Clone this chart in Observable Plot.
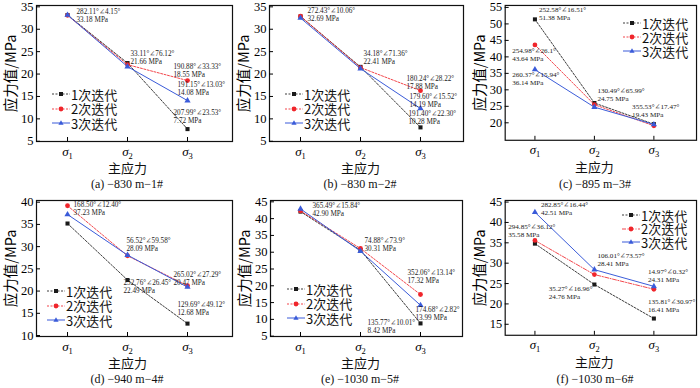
<!DOCTYPE html>
<html><head><meta charset="utf-8">
<script src="https://cdn.jsdelivr.net/npm/d3@7"></script>
<script src="https://cdn.jsdelivr.net/npm/@observablehq/plot@0.6"></script>
<style>
body{margin:0;background:#fff}
#root{position:relative;width:700px;height:388px;overflow:hidden;background:#fff}
.panel{position:absolute}
.panel svg{overflow:visible}
.cap{position:absolute;font-family:"Liberation Serif",serif;font-size:12px;text-align:center;width:160px;white-space:nowrap;color:#111;line-height:14px}
.leg{position:absolute;font-family:"Noto Sans CJK SC",sans-serif;font-size:13px;line-height:13px;height:13px;display:flex;align-items:center;white-space:nowrap;color:#111}
.leg svg{margin-right:1px}
g[aria-label="y-axis label"] text{font-family:"Noto Sans CJK SC",sans-serif;font-size:14.5px;font-style:normal}
</style></head>
<body><div id="root"></div>
<script>
// ---------- data ----------
const categories = ["σ1", "σ2", "σ3"];
const seriesNames = ["1次迭代", "2次迭代", "3次迭代"];
const captions = ["(a) −830 m−1#", "(b) −830 m−2#", "(c) −895 m−3#", "(d) −940 m−4#", "(e) −1030 m−5#", "(f) −1030 m−6#"];
const yLabel = "应力值/MPa";
const xLabel = "主应力";
const iter1 = [[33.18, 22.45, 7.72], [32.85, 21.6, 8.1], [51.38, 26.0, 19.6], [35.2, 22.49, 12.68], [42.1, 30.6, 8.8], [34.8, 24.76, 16.41]];
const iter2 = [[33.1, 22.1, 18.55], [32.9, 21.45, 16.3], [43.64, 25.5, 19.1], [39.2, 27.95, 21.2], [42.3, 31.1, 17.4], [35.58, 27.2, 23.6]];
const iter3 = [[33.18, 21.66, 14.08], [32.5, 21.2, 12.3], [36.14, 24.75, 19.5], [37.23, 28.09, 20.9], [42.9, 30.31, 14.2], [42.51, 28.41, 24.31]];
const yTicks = [[5, 10, 15, 20, 25, 30, 35], [5, 10, 15, 20, 25, 30, 35], [20, 25, 30, 35, 40, 45, 50, 55], [10, 15, 20, 25, 30, 35, 40], [5, 10, 15, 20, 25, 30, 35, 40, 45], [15, 20, 25, 30, 35, 40, 45]];
const annotationTexts = [
  ["282.11°∠4.15°\n33.18 MPa", "33.11°∠76.12°\n21.66 MPa", "190.88°∠33.33°\n18.55 MPa", "191.15°∠13.03°\n14.08 MPa", "207.99°∠23.53°\n7.72 MPa"],
  ["272.43°∠10.06°\n32.69 MPa", "34.18°∠71.36°\n22.41 MPa", "180.24°∠28.22°\n17.88 MPa", "179.60°∠15.52°\n14.19 MPa", "191.40°∠22.30°\n10.28 MPa"],
  ["252.58°∠16.51°\n51.38 MPa", "254.98°∠26.1°\n43.64 MPa", "260.37°∠15.94°\n36.14 MPa", "130.49°∠65.99°\n24.75 MPa", "355.53°∠17.47°\n19.43 MPa"],
  ["168.50°∠12.40°\n37.23 MPa", "56.52°∠59.58°\n28.09 MPa", "265.02°∠27.29°\n20.47 MPa", "252.76°∠26.45°\n22.49 MPa", "129.69°∠49.12°\n12.68 MPa"],
  ["365.49°∠15.84°\n42.90 MPa", "74.88°∠73.9°\n30.31 MPa", "352.06°∠13.14°\n17.32 MPa", "174.68°∠2.82°\n13.99 MPa", "135.77°∠10.01°\n8.42 MPa"],
  ["282.85°∠16.44°\n42.51 MPa", "294.85°∠36.12°\n35.58 MPa", "106.01°∠73.57°\n28.41 MPa", "35.27°∠16.96°\n24.76 MPa", "14.97°∠0.32°\n24.31 MPa", "135.81°∠30.97°\n16.41 MPa"]
];

// ---------- layout / style ----------
const colors = ["#1a1a1a", "#f0252b", "#3a5bd9"];
const symbols = ["square", "circle", "triangle"];
const layout = [
  {frameLeft: 36, top: 0, frameW: 196, xDomain: [0.483, 3.75], yDomain: [4.95, 35.3], legend: {x: 52, y: [94, 108.5, 123]},
   notes: [[2, 0, 9, -6.5], [2, 1, 3, -16], [1, 2, -14, -17], [2, 2, -10, -19], [0, 2, -14, -20]]},
  {frameLeft: 269, top: 0, frameW: 194, xDomain: [0.483, 3.717], yDomain: [4.95, 35.3], legend: {x: 285, y: [94, 108.5, 123]},
   notes: [[0, 0, 7, -9], [2, 1, 3, -18], [1, 2, -14, -15], [2, 2, -11, -15], [0, 2, -12, -17]]},
  {frameLeft: 505, top: 0, frameW: 193, xDomain: [0.5, 3.717], yDomain: [14.7, 55.6], legend: {x: 623, y: [23, 37, 51]},
   notes: [[0, 0, 4, -13], [1, 0, -23, 2], [2, 0, -23, 2], [2, 1, 3, -20], [2, 2, -22, -21]]},
  {frameLeft: 36, top: 195, frameW: 196, xDomain: [0.483, 3.75], yDomain: [9.78, 40.38], legend: {x: 47, y: [291, 305.5, 320]},
   notes: [[2, 0, 6, -13], [2, 1, -1, -18], [2, 2, -14, -16], [0, 1, -4, -1], [0, 2, -10, -22]]},
  {frameLeft: 270, top: 195, frameW: 192, xDomain: [0.5, 3.7], yDomain: [4.9, 45.4], legend: {x: 287, y: [289, 303.5, 318]},
   notes: [[2, 0, 12, -7], [2, 1, 4, -14], [1, 2, -13, -25], [2, 2, -5, 1], [0, 2, -53, -4]]},
  {frameLeft: 505, top: 195, frameW: 193, xDomain: [0.5, 3.717], yDomain: [12.3, 45.4], legend: {x: 622, y: [215, 228.5, 242]},
   notes: [[2, 0, 6, -11], [1, 0, -27, -17], [2, 1, 3, -17], [0, 1, -46, 1], [2, 2, -6, -18], [0, 2, -6, -20]]}
];
const ML = 36, MR = 4, MT = 5, MB = 40, H = 181;
const serif = "Liberation Serif, DejaVu Serif, serif";

function dashFor(s, p) {
  if (s === 2) return null;
  if (s === 1 && p === 5) return "4,1.5,1,1.5";
  return "2,1.5";
}

const root = document.getElementById("root");
const svgNS = "http://www.w3.org/2000/svg";

layout.forEach((L, p) => {
  const all = [iter1[p], iter2[p], iter3[p]];
  const rows = all.map((vals, s) => vals.map((v, i) => ({s, i: i + 1, v, cat: categories[i]})));
  const marks = [
    Plot.frame({stroke: "#111", strokeWidth: 1.2}),
    Plot.axisY({ticks: yTicks[p], tickSize: -4, tickPadding: 7, fontSize: 12.5, fontFamily: serif,
      label: yLabel, labelAnchor: "center", labelArrow: false, labelOffset: 31}),
    Plot.axisX({ticks: [1, 2, 3], tickFormat: i => categories[i - 1], tickSize: -4, tickPadding: 9,
      fontSize: 13, fontFamily: serif, fontStyle: "italic", label: null}),
    Plot.text([xLabel], {x: 2, frameAnchor: "bottom", lineAnchor: "middle", dy: 27.5, fontSize: 13, fontFamily: "Noto Sans CJK SC", fill: "#111"})
  ];
  rows.forEach((r, s) => {
    marks.push(Plot.line(r, {x: "i", y: "v", stroke: colors[s], strokeWidth: s === 2 ? 1 : 0.85, strokeDasharray: dashFor(s, p)}));
    marks.push(Plot.dot(r, {x: "i", y: "v", symbol: symbols[s], fill: colors[s], stroke: "none", r: s === 1 ? 2.4 : 2.3}));
  });
  L.notes.forEach(([s, c, dx, dy], k) => {
    marks.push(Plot.text([annotationTexts[p][k]], {
      x: c + 1, y: all[s][c], text: d => d, dx, dy, textAnchor: "start", lineAnchor: "top",
      fontSize: 7.2, lineHeight: 1.12, fontFamily: serif, fill: "#222"
    }));
  });
  const chart = Plot.plot({
    width: ML + L.frameW + MR, height: H,
    marginLeft: ML, marginRight: MR, marginTop: MT, marginBottom: MB,
    style: {background: "transparent", overflow: "visible"},
    x: {domain: L.xDomain},
    y: {domain: L.yDomain},
    marks
  });
  // subscripts on σ tick labels
  chart.querySelectorAll('g[aria-label="x-axis tick label"] text').forEach(t => {
    const str = t.textContent;
    t.textContent = str[0];
    const ts = document.createElementNS(svgNS, "tspan");
    ts.setAttribute("dy", "3");
    ts.setAttribute("font-size", "8.5");
    ts.setAttribute("font-style", "normal");
    ts.textContent = str.slice(1);
    t.appendChild(ts);
  });
  const div = document.createElement("div");
  div.className = "panel";
  div.style.left = (L.frameLeft - ML) + "px";
  div.style.top = L.top + "px";
  div.appendChild(chart);
  root.appendChild(div);

  // caption centred under σ2
  const sigma2 = L.frameLeft + (2 - L.xDomain[0]) / (L.xDomain[1] - L.xDomain[0]) * L.frameW;
  const cap = document.createElement("div");
  cap.className = "cap";
  cap.textContent = captions[p];
  cap.style.left = (sigma2 - 80) + "px";
  cap.style.top = (L.top + 177) + "px";
  root.appendChild(cap);

  // legend
  seriesNames.forEach((name, s) => {
    const item = document.createElement("div");
    item.className = "leg";
    item.style.left = L.legend.x + "px";
    item.style.top = (L.legend.y[s] - 6.5) + "px";
    const dash = dashFor(s, p);
    let marker;
    if (s === 0) marker = `<rect x="7" y="2" width="4" height="4" fill="${colors[0]}"/>`;
    else if (s === 1) marker = `<circle cx="9" cy="4" r="2.4" fill="${colors[1]}"/>`;
    else marker = `<path d="M9,1.2L11.6,5.7L6.4,5.7Z" fill="${colors[2]}"/>`;
    item.innerHTML = `<svg width="18" height="8" viewBox="0 0 18 8"><line x1="0" y1="4" x2="18" y2="4" stroke="${colors[s]}" stroke-width="${s === 2 ? 1 : 0.85}" ${dash ? `stroke-dasharray="${dash}"` : ""}/>${marker}</svg><span>${name}</span>`;
    root.appendChild(item);
  });
});
</script>
</body></html>
